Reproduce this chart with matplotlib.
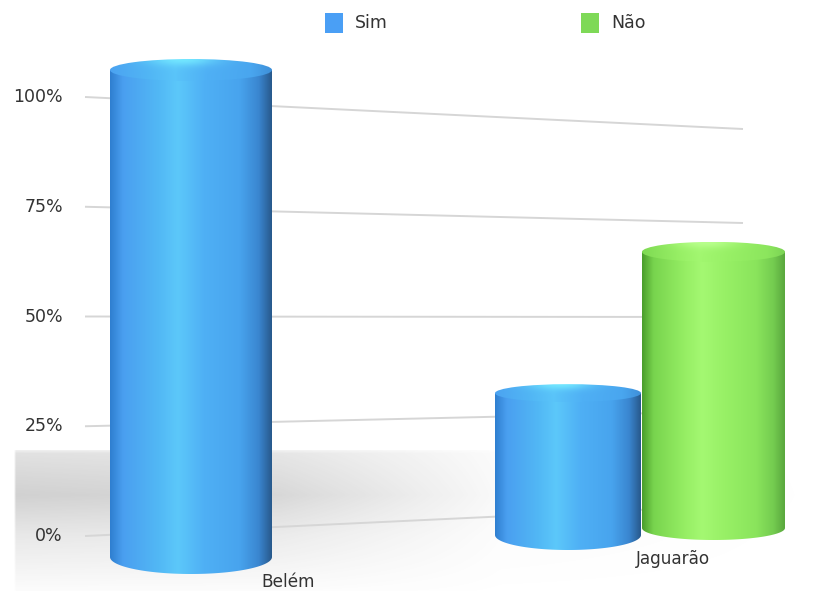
import numpy as np
import matplotlib
matplotlib.use('Agg')
from matplotlib import pyplot as plt
from matplotlib.colors import LinearSegmentedColormap, to_rgb
from matplotlib.patches import Polygon, Ellipse, Rectangle

# data
categories = ['Belém', 'Jaguarão']
series = ['Sim', 'Não']
bar_category = [0, 1, 1]          # which category each cylinder belongs to
bar_series = [0, 0, 1]            # which series each cylinder belongs to
bar_values = [100.0, 33.3, 66.7]  # percent
ticks = [0, 25, 50, 75, 100]
tick_labels = ['0%', '25%', '50%', '75%', '100%']

# layout (pixels, figure is drawn 1:1 in pixel units)
W, H = 835, 591
grid_x = (85, 743)
grid_zero = (536, 505)     # y of 0% at left / right end of the grid plane
grid_ppu = (4.39, 3.76)    # pixels per percent at left / right end
cyl_cx = [191, 568, 713.5]
cyl_hw = [81, 73, 71.5]
cyl_base = [557, 535, 528]
cyl_ppu = [4.87, 4.26, 4.14]
cyl_ry_top = [11, 9, 10]
cyl_ry_bot = [17, 15, 12]
cyl_order = [2, 1, 0]     # index into bar lists, front-most last
label_pos = [(288, 582), (673, 559)]

side_cols = {
    'Sim': ['#2f7fd0', '#4a9ff0', '#52b8f5', '#5cc8fa', '#4fb0f5', '#48a4ee', '#3a86d0', '#28598c'],
    'Não': ['#4a9e2c', '#78d44e', '#96ee64', '#a4f872', '#98f066', '#8ae45c', '#74cc50', '#5aa83e'],
}
side_pos = [0.0, 0.08, 0.3, 0.42, 0.58, 0.8, 0.92, 1.0]
top_hi = {'Sim': '#72e6ff', 'Não': '#b8ff8c'}
legend_cols = {'Sim': '#4a9ff5', 'Não': '#7ed957'}
text_col = '#333333'


def grid_y(v, x):
    f = (x - grid_x[0]) / (grid_x[1] - grid_x[0])
    zero = grid_zero[0] + f * (grid_zero[1] - grid_zero[0])
    ppu = grid_ppu[0] + f * (grid_ppu[1] - grid_ppu[0])
    return zero - ppu * v


def cylinder(ax, cx, hw, base, top, ry_t, ry_b, name, z):
    cmap = LinearSegmentedColormap.from_list(name, list(zip(side_pos, side_cols[name])))
    t = np.linspace(0, np.pi, 80)
    pts = [(cx - hw, top)]
    pts += list(zip(cx - hw * np.cos(t), base + ry_b * np.sin(t)))
    pts += [(cx + hw, top)]
    side = Polygon(pts, closed=True, facecolor='none', edgecolor='none', zorder=z)
    ax.add_patch(side)
    grad = np.linspace(0, 1, 256)[None, :]
    im = ax.imshow(grad, cmap=cmap, extent=(cx - hw, cx + hw, base + ry_b, top),
                   aspect='auto', zorder=z, interpolation='bicubic')
    im.set_clip_path(side)

    # top face
    nx, ny = 200, 40
    gx = np.linspace(0, 1, nx)
    gy = np.linspace(0, 1, ny)
    base_rgb = cmap(0.1 + 0.8 * gx)[:, :3]
    base_rgb = base_rgb * 0.85 + 0.15 * np.array(to_rgb(side_cols[name][4]))
    hi = np.array(to_rgb(top_hi[name]))
    w = np.exp(-((gx[None, :] - 0.45) / 0.2) ** 2 - (gy[:, None] / 0.3) ** 2)
    img = base_rgb[None, :, :] * (1 - w[..., None]) + hi * w[..., None]
    ell = Ellipse((cx, top), 2 * hw, 2 * ry_t, facecolor='none', edgecolor='none', zorder=z + 0.1)
    ax.add_patch(ell)
    im2 = ax.imshow(img, extent=(cx - hw, cx + hw, top + ry_t, top - ry_t),
                    aspect='auto', zorder=z + 0.1, interpolation='bicubic')
    im2.set_clip_path(ell)


fig = plt.figure(figsize=(W / 100, H / 100), dpi=100)
ax = fig.add_axes([0, 0, 1, 1])
ax.axis('off')

# floor shadow
sy = np.linspace(450, 591, 140)
sx = np.linspace(13, W, 400)
ay = np.interp(sy, [450, 453, 495, 535, 591], [0.10, 0.18, 0.28, 0.14, 0.02])
axx = np.interp(sx, [13, 15, 280, 500, 835], [0.0, 1.0, 0.85, 0.12, 0.0])
shadow = np.zeros((len(sy), len(sx), 4))
shadow[..., :3] = 0.35
shadow[..., 3] = ay[:, None] * axx[None, :]
ax.imshow(shadow, extent=(13, W, 591, 450), aspect='auto', zorder=0, interpolation='bilinear')

# grid plane lines and tick labels
for v, lab in zip(ticks, tick_labels):
    ax.plot(grid_x, [grid_y(v, grid_x[0]), grid_y(v, grid_x[1])],
            color='#d6d6d6', lw=1.4, zorder=1, solid_capstyle='butt')
    ax.text(63, grid_y(v, grid_x[0]), lab, ha='right', va='center',
            fontsize=12.5, color=text_col)

# cylinders
for k, i in enumerate(cyl_order):
    name = series[bar_series[i]]
    top = cyl_base[i] - cyl_ppu[i] * bar_values[i]
    cylinder(ax, cyl_cx[i], cyl_hw[i], cyl_base[i], top,
             cyl_ry_top[i], cyl_ry_bot[i], name, 2 + k)

# category labels
for cat, (lx, ly) in zip(categories, label_pos):
    ax.text(lx, ly, cat, ha='center', va='center', fontsize=12.2, color=text_col, zorder=10)

# legend
leg_x = [325, 581]
for s, lx in zip(series, leg_x):
    ax.add_patch(Rectangle((lx, 13), 18, 20, facecolor=legend_cols[s], edgecolor='none', zorder=10))
    ax.text(lx + 30, 23, s, ha='left', va='center', fontsize=12.5, color=text_col, zorder=10)

ax.set_xlim(0, W)
ax.set_ylim(H, 0)
fig.savefig('out.png', dpi=100, facecolor='white')
